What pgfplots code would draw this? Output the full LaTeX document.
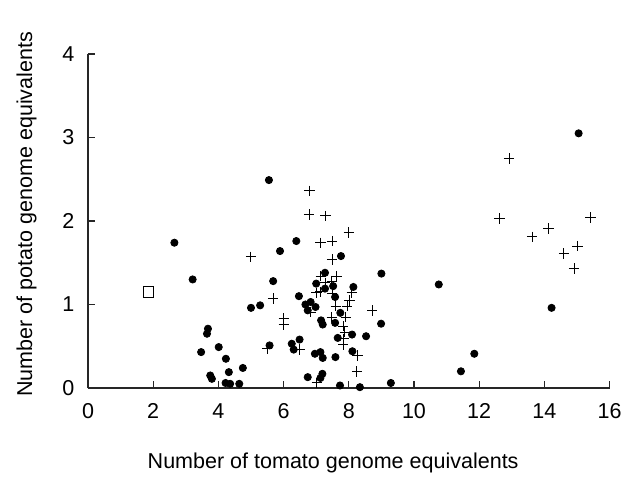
\documentclass[border=0pt]{standalone}
\usepackage{pgfplots}
\pgfplotsset{compat=1.18}
\usepackage{fontspec}
\setmainfont{Liberation Sans}

\begin{document}
\fontsize{10.8}{13}\selectfont
\begin{tikzpicture}
% fix the page to the reference's frame (1 px = 0.5 bp)
\path[use as bounding box] (-44bp,-51bp) rectangle (266.5bp,194bp);
\begin{axis}[
    scale only axis,
    width=260.8bp, height=167bp,
    xmin=0, xmax=16, ymin=0, ymax=4,
    xtick={0,2,...,16}, ytick={0,1,2,3,4},
    axis lines=left,
    axis line style={-, black!85, line width=0.7bp},
    tick align=inside,
    major tick length=3.5bp,
    tick style={black!85, line width=0.6bp},
    /pgf/number format/assume math mode=true,
    xticklabel style={yshift=-4bp},
    yticklabel style={xshift=-3bp},
    xlabel={Number of tomato genome equivalents},
    ylabel={Number of potato genome equivalents},
    every axis x label/.style={at={(axis description cs:0.47,-0.225)}, anchor=center},
    every axis y label/.style={at={(axis description cs:-0.118,0.52)}, anchor=center, rotate=90},
    clip=false,
]
% dots
\addplot[only marks, mark=*, mark size=1.8bp, black] table {
x y
2.65 1.74
3.21 1.30
5.55 2.49
5.68 1.28
5.00 0.96
5.28 0.99
3.68 0.71
3.65 0.65
3.47 0.43
4.01 0.49
4.23 0.35
4.32 0.19
3.75 0.15
3.80 0.11
4.22 0.06
4.36 0.05
4.64 0.05
4.75 0.24
5.57 0.51
5.89 1.64
6.39 1.76
7.76 1.58
7.27 1.38
7.00 1.25
7.52 1.22
7.27 1.19
8.14 1.21
6.47 1.10
7.58 1.09
6.83 1.03
6.67 1.00
6.98 0.97
6.74 0.93
9.00 1.37
7.74 0.90
7.15 0.81
7.20 0.76
7.58 0.78
8.99 0.77
8.10 0.64
8.53 0.62
7.66 0.60
6.49 0.58
6.25 0.53
6.31 0.46
6.96 0.41
7.13 0.43
7.20 0.36
7.59 0.37
8.11 0.44
6.74 0.13
7.13 0.12
7.19 0.17
7.73 0.03
8.34 0.01
9.29 0.06
10.76 1.24
14.22 0.96
11.85 0.41
11.44 0.20
15.05 3.05
};
% plus signs
\addplot[only marks, mark=+, mark size=2.6bp, black, line width=0.5bp] table {
x y
5.00 1.57
5.68 1.07
5.50 0.47
6.79 2.36
6.78 2.08
7.28 2.06
8.00 1.86
7.13 1.74
7.49 1.76
7.49 1.54
7.14 1.34
7.63 1.34
7.27 1.26
7.48 1.28
7.01 1.14
7.12 1.15
7.49 1.13
8.09 1.14
8.02 1.05
7.60 0.98
7.95 0.98
6.83 0.91
8.72 0.93
7.91 0.85
7.48 0.85
7.83 0.74
7.88 0.67
7.85 0.59
7.83 0.52
6.50 0.46
8.27 0.39
8.25 0.20
7.02 0.06
6.01 0.83
6.01 0.76
12.92 2.75
12.62 2.03
15.41 2.04
14.12 1.91
13.62 1.81
15.01 1.70
14.60 1.61
14.91 1.43
};
% open square
\addplot[only marks, mark=square, mark size=2.6bp, black, line width=0.6bp] coordinates {(1.85,1.15)};
\end{axis}
\end{tikzpicture}
\end{document}
